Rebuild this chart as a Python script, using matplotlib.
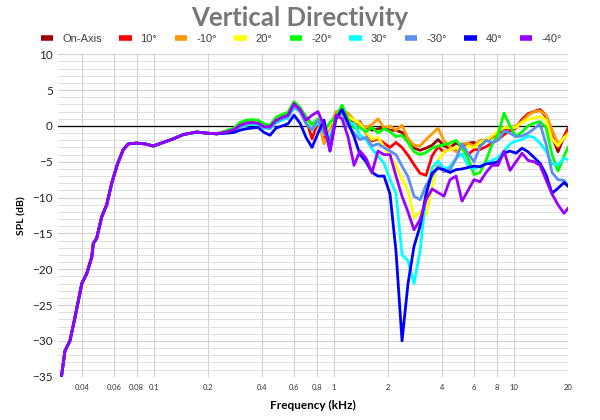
import numpy as np
import matplotlib
matplotlib.use("Agg")
import matplotlib.pyplot as plt
from matplotlib.lines import Line2D
from matplotlib.ticker import NullLocator, MultipleLocator

#shared low-frequency part (all angles identical here), kHz / dB
freq_low = [0.0306, 0.0320, 0.0341, 0.0364, 0.0397, 0.0423, 0.0451, 0.0460,
            0.0480, 0.0512, 0.0546, 0.0582, 0.0625, 0.0675, 0.0720, 0.0801,
            0.0891, 0.0991, 0.1126, 0.1280, 0.1455, 0.1726, 0.1962, 0.2230]
spl_low = [-35.0, -31.4, -30.0, -26.7, -22.0, -20.6, -18.3, -16.4,
           -15.7, -12.7, -11.0, -8.0, -5.4, -3.3, -2.5, -2.4,
           -2.5, -2.8, -2.3, -1.8, -1.2, -0.85, -1.0, -1.1]

#frequencies where the angles split apart
freq_hi = [0.2577, 0.2783, 0.3004, 0.3245, 0.3504, 0.3784, 0.4084, 0.4410,
           0.4763, 0.5142, 0.5553, 0.5995, 0.6475, 0.6992, 0.7548, 0.8150,
           0.8799, 0.9502, 1.026, 1.108, 1.196, 1.292, 1.394, 1.506,
           1.626, 1.755, 1.896, 2.047, 2.210, 2.387, 2.577, 2.783,
           3.005, 3.245, 3.504, 3.784, 4.084, 4.410, 4.763, 5.142,
           5.553, 5.995, 6.475, 6.992, 7.548, 8.150, 8.799, 9.502,
           10.26, 11.08, 11.96, 12.92, 13.94, 15.06, 16.26, 17.55,
           18.96, 19.95]

on_axis = [-0.7, -0.4, 0.3, 0.6, 0.7, 0.6, 0.2, -0.1, 1.0, 1.4, 1.7, 3.2,
           2.4, 1.0, -0.5, 0.8, -1.8, 0.0, 1.5, 2.0, 1.4, 0.6,
           0.0, -0.2, -0.6, -0.4, -0.3, -0.6, -0.6, -0.9, -1.8, -3.1,
           -3.4, -3.1, -2.7, -1.9, -2.8, -3.0, -2.4, -2.8, -2.4, -2.3,
           -2.8, -2.0, -1.6, -1.0, -0.5, -0.4, -0.2, 0.9, 1.7, 2.0,
           2.2, 1.3, -1.5, -3.6, -1.5, -0.5]
up_10 = [-0.7, -0.4, 0.3, 0.6, 0.7, 0.6, 0.2, -0.1, 1.0, 1.4, 1.7, 3.2,
         2.4, 1.0, -1.8, 0.6, -1.5, 0.0, 1.5, 1.8, 1.2, 0.3,
         0.6, -1.0, -2.1, -1.8, -2.4, -3.0, -2.3, -3.0, -4.1, -5.4,
         -6.6, -6.9, -4.2, -2.9, -3.7, -3.0, -3.4, -3.0, -4.0, -3.3,
         -3.3, -2.9, -2.4, -1.9, -1.2, -0.7, -0.3, 0.8, 1.6, 2.0,
         2.3, 1.5, -1.0, -3.0, -1.5, -0.3]
down_10 = [-0.6, -0.3, 0.4, 0.7, 0.8, 0.7, 0.2, 0.0, 1.1, 1.5, 1.8, 3.3,
           2.5, 1.1, -0.3, 0.9, -2.5, 0.0, 2.0, 2.2, 1.8, 0.8,
           0.0, -0.2, 0.2, 1.0, -0.3, 0.0, -0.6, 0.1, -1.8, -2.7,
           -2.8, -1.9, -1.1, -0.3, -2.1, -2.9, -3.6, -2.5, -2.4, -2.8,
           -2.0, -2.0, -1.5, -0.8, -0.3, -0.2, 0.0, 0.6, 1.5, 2.0,
           2.1, 1.5, -0.5, -2.5, -1.8, -1.0]
up_20 = [-0.7, -0.4, 0.3, 0.6, 0.7, 0.6, 0.1, -0.1, 1.0, 1.4, 1.7, 3.1,
         2.3, 1.0, -0.5, 0.8, -1.2, 0.2, 1.2, 2.0, 1.3, 0.8,
         0.4, -0.9, -1.9, -1.6, -2.9, -4.3, -5.5, -7.5, -9.0, -12.8,
         -12.0, -12.5, -8.5, -4.8, -3.6, -3.3, -3.0, -3.4, -2.8, -3.0,
         -2.3, -2.0, -1.4, -0.7, -0.2, -0.3, -0.2, 0.5, 0.9, 1.1,
         1.3, 0.8, -1.8, -2.8, -1.6, -1.2]
down_20 = [-0.6, -0.3, 0.5, 0.8, 0.9, 0.8, 0.3, 0.1, 1.2, 1.6, 1.9, 3.4,
           2.6, 1.3, 0.2, 1.0, -0.8, 0.5, 1.3, 2.9, 1.0, -0.3,
           -0.2, -0.8, -0.2, -1.0, -0.4, -0.8, -1.5, -1.3, -2.3, -3.6,
           -4.0, -3.7, -3.1, -2.8, -2.6, -2.4, -2.0, -3.0, -4.5, -6.8,
           -6.5, -4.8, -2.6, -1.2, 1.8, 0.0, -1.5, -0.8, 0.0, 0.4,
           0.6, -0.2, -4.0, -6.3, -4.2, -3.0]
up_30 = [-0.9, -0.6, -0.2, 0.1, 0.2, 0.2, -0.3, -0.4, 0.4, 0.8, 1.1, 2.6,
         2.0, 0.5, -0.5, 0.5, -1.0, -1.5, 1.0, 2.0, 0.5, 0.3,
         -1.3, -1.9, -3.2, -4.2, -5.2, -7.5, -9.4, -18.0, -18.8, -22.0,
         -17.5, -9.5, -5.8, -4.9, -6.0, -5.7, -4.5, -3.9, -5.5, -6.0,
         -5.6, -5.2, -4.8, -4.4, -3.5, -2.5, -2.1, -1.9, -1.4, -1.6,
         -2.4, -3.5, -5.3, -5.4, -4.5, -4.7]
down_30 = [-0.9, -0.5, -0.1, 0.3, 0.4, 0.3, -0.2, -0.3, 0.6, 1.0, 1.3, 2.8,
           2.0, 0.3, -0.5, 0.8, -1.0, -2.0, 1.2, 1.8, 0.0, -1.0,
           -1.9, -1.6, -2.8, -2.5, -3.0, -3.5, -4.0, -5.6, -7.1, -9.8,
           -10.3, -8.3, -7.0, -5.6, -6.4, -6.1, -4.6, -2.5, -3.8, -5.0,
           -2.9, -2.0, -2.3, -2.0, -0.7, -1.0, -1.5, -1.4, -1.0, -0.4,
           0.3, -2.5, -6.5, -7.5, -7.6, -8.3]
up_40 = [-1.0, -0.9, -0.6, -0.4, -0.3, -0.2, -0.9, -1.3, -0.3, 0.0, 0.3, 1.5,
         0.4, -1.6, -3.0, -1.0, 0.8, -3.5, 1.0, 2.3, 0.5, -1.5,
         -4.0, -5.0, -6.5, -7.0, -7.0, -9.5, -17.5, -30.0, -22.0, -16.8,
         -14.0, -9.5, -6.6, -5.9, -6.1, -6.5, -6.1, -6.0, -5.8, -5.6,
         -5.7, -5.3, -5.2, -5.0, -3.8, -3.5, -3.8, -3.1, -3.6, -4.4,
         -5.2, -6.8, -9.4, -8.7, -7.9, -8.4]
down_40 = [-0.8, -0.5, 0.1, 0.4, 0.5, 0.4, -0.1, -0.1, 0.8, 1.2, 1.5, 3.1,
           2.3, 0.8, 1.5, 2.0, 0.0, -3.5, 1.5, 1.0, -1.5, -5.5,
           -3.5, -4.5, -6.5, -3.5, -4.0, -4.0, -7.0, -9.8, -12.0, -14.5,
           -13.1, -10.3, -8.8, -9.3, -9.8, -7.5, -7.0, -10.5, -9.0, -7.5,
           -7.8, -6.5, -5.5, -5.5, -3.5, -6.2, -5.0, -3.8, -4.8, -5.0,
           -5.5, -7.5, -9.5, -11.0, -12.2, -11.5]

labels = ["On-Axis", "10°", "-10°", "20°", "-20°", "30°", "-30°", "40°", "-40°"]
colors = ["#9c0000", "#ff0000", "#ff9900", "#ffff00", "#00ff00",
          "#00ffff", "#5b8ff0", "#0000ff", "#9a00ff"]
series = [on_axis, up_10, down_10, up_20, down_20, up_30, down_30, up_40, down_40]

x_ticks = [0.04, 0.06, 0.08, 0.1, 0.2, 0.4, 0.6, 0.8, 1, 2, 4, 6, 8, 10, 20]
x_tick_labels = ["0.04", "0.06", "0.08", "0.1", "0.2", "0.4", "0.6", "0.8",
                 "1", "2", "4", "6", "8", "10", "20"]

plt.rcParams["font.family"] = ["Lato", "DejaVu Sans"]

fig = plt.figure(figsize=(6, 4.2), dpi=100)
ax = fig.add_axes([0.0972, 0.1031, 0.8498, 0.7676])

#grid first so the curves sit on top
ax.set_xscale("log")
ax.set_xlim(0.0294, 20.0)
ax.set_ylim(-35, 10)
ax.set_xticks(x_ticks)
ax.set_xticklabels(x_tick_labels)
ax.xaxis.set_minor_locator(NullLocator())
ax.yaxis.set_major_locator(MultipleLocator(5))
ax.yaxis.set_minor_locator(MultipleLocator(1))
ax.grid(True, which="major", axis="both", color="#d0d0d0", linewidth=0.8)
ax.grid(True, which="minor", axis="y", color="#dedede", linewidth=0.7)
ax.set_axisbelow(True)
ax.axhline(0, color="black", linewidth=0.9, zorder=1.5)

for vals, col, lab in zip(series, colors, labels):
    ax.plot(freq_low + freq_hi, spl_low + vals, color=col, linewidth=2.0,
            label=lab, solid_joinstyle="round")

for sp in ax.spines.values():
    sp.set_visible(False)
ax.tick_params(axis="both", which="both", length=0)
ax.tick_params(axis="x", labelsize=5.5, pad=5, labelcolor="#333333")
ax.tick_params(axis="y", labelsize=8.5, pad=4, labelcolor="#222222")

ax.set_xlabel("Frequency (kHz)", fontsize=8.5, fontweight="bold", labelpad=7)
ax.set_ylabel("SPL (dB)", fontsize=7.5, fontweight="bold", labelpad=4)

fig.text(0.5, 0.957, "Vertical Directivity", ha="center", va="center",
         fontsize=18.5, fontweight="bold", color="#777777")

handles = [Line2D([0], [0], color=c, linewidth=4, solid_capstyle="butt")
           for c in colors]
leg = fig.legend(handles, labels, loc="center", ncol=9,
                 bbox_to_anchor=(0.502, 0.907), frameon=False,
                 handlelength=1.1, handletextpad=0.8, columnspacing=1.6,
                 prop={"family": "Liberation Sans", "size": 8})
for t in leg.get_texts():
    t.set_color("#404040")

fig.savefig("out.png", dpi=100)
